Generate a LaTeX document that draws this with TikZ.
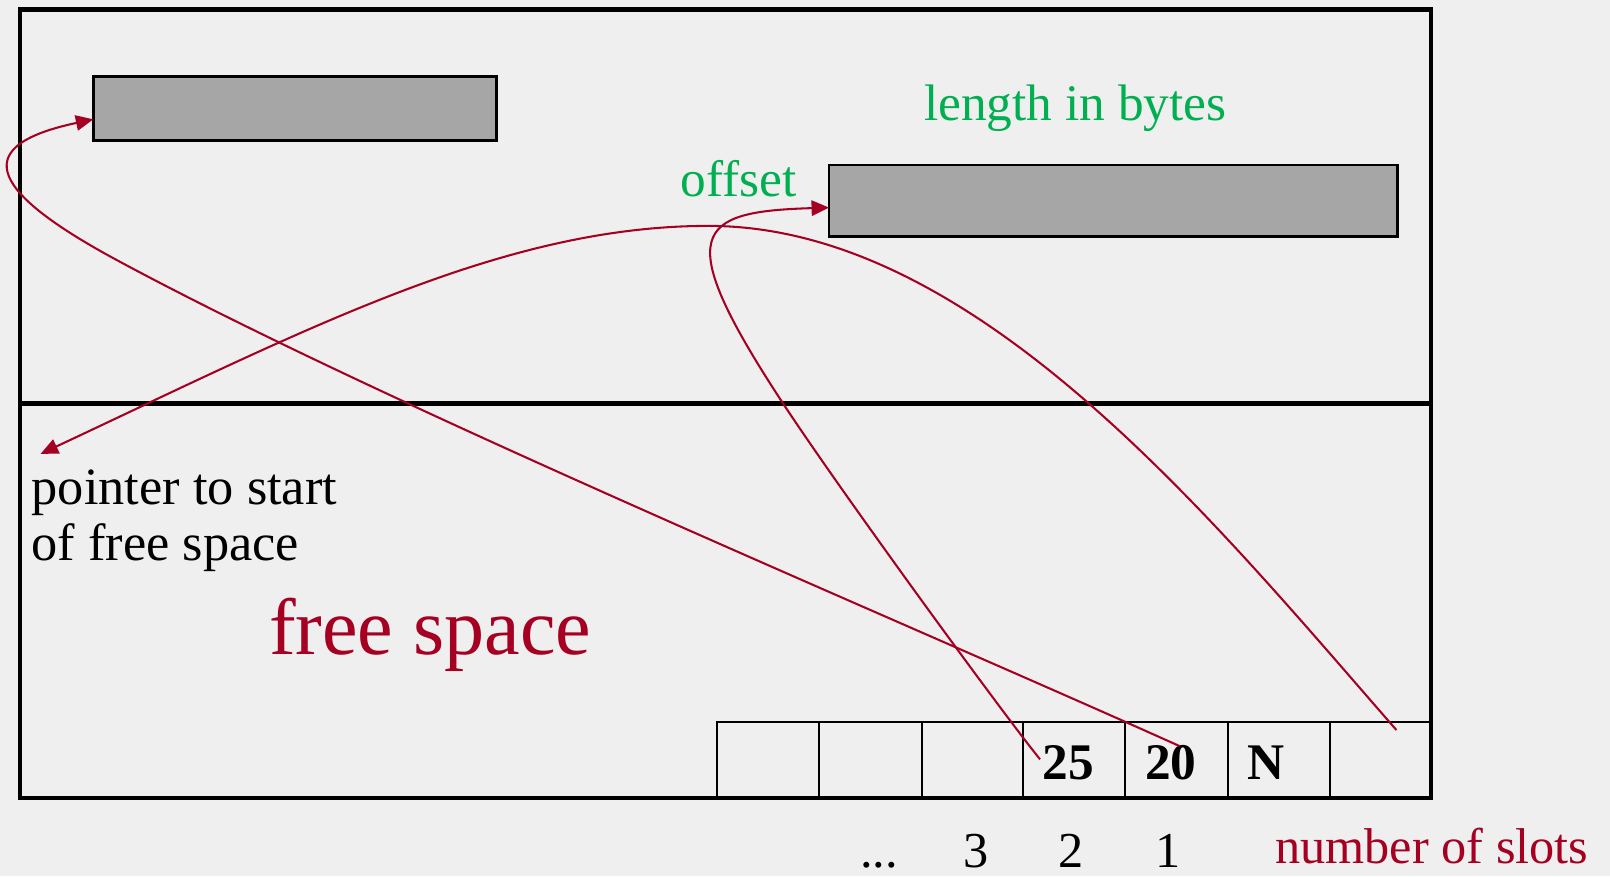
\documentclass[tikz,border=0pt]{standalone}
\usepackage{fontspec}
\setmainfont{Liberation Serif}
\usetikzlibrary{arrows.meta}
\definecolor{bg}{HTML}{EFEFEF}
\definecolor{dred}{HTML}{A50021}
\definecolor{grn}{HTML}{00B050}
\definecolor{boxgray}{HTML}{A6A6A6}
\begin{document}
\begin{tikzpicture}[x=1pt,y=-1pt,
  txt/.style={inner sep=0pt, outer sep=0pt},
  fnormal/.style={font=\fontsize{50}{60}\selectfont},
  fbold/.style={font=\fontsize{50}{56}\selectfont\bfseries},
  fnum/.style={font=\fontsize{49}{56}\selectfont},
  graybox/.style={draw=black, line width=2.4pt, fill=boxgray, inner sep=0pt, outer sep=0pt},
  ptr/.style={draw=dred, line width=2pt, -{Triangle[length=17pt,width=15pt]}},
  frame/.style={line width=4.5pt},
  cellline/.style={line width=2pt},
]
\useasboundingbox[fill=bg] (0,0) rectangle (1568,853.15);

% outer frame and middle line
\draw[frame] (19.5,9) rectangle (1393.7,777);
\draw[frame] (19.5,392.8) -- (1393.7,392.8);

% slot row
\draw[cellline] (698.7,777) -- (698.7,703) -- (1393.7,703);
\foreach \x in {797.6,897.6,996.3,1096,1196,1295.3}
  \draw[cellline] (\x,703) -- (\x,777);
\draw[frame] (698.7,777) -- (1393.7,777);

% records
\node[graybox, minimum width=392.8pt, minimum height=62.3pt] (rec1) at (287.3,105.85) {};
\node[graybox, minimum width=553.6pt, minimum height=69.8pt] (rec2) at (1084.2,195.6) {};

% texts
\node[txt, fnormal, text=grn, anchor=base west] (len) at (900,117.5) {length in bytes};
\node[txt, fnormal, text=grn, anchor=base west] (off) at (663,191.5) {offset};
\node[txt, font=\fontsize{51}{60}\selectfont, anchor=base west] (ptra) at (30.9,491.8) {pointer to start};
\node[txt, font=\fontsize{51}{60}\selectfont, anchor=base west] (ptrb) at (30.9,545.4) {of free space};
\node[txt, font=\fontsize{78}{90}\selectfont, text=dred, anchor=base west] (free) at (262,637) {free space};

\node[txt, fbold, anchor=base west] (v25) at (1015.5,759) {25};
\node[txt, fbold, anchor=base west] (v20) at (1115.3,759) {20};
\node[txt, fbold, anchor=base west] (vN) at (1214.5,759) {N};

\node[txt, fnum, anchor=base] (dots) at (856,845) {...};
\node[txt, fnum, anchor=base] (n3) at (950.4,845) {3};
\node[txt, fnum, anchor=base] (n2) at (1043.2,845) {2};
\node[txt, fnum, anchor=base] (n1) at (1137.8,845) {1};
\node[txt, fnum, text=dred, anchor=base west] (nslots) at (1242,840.6) {number of slots};

% connector ends
\coordinate (s20) at (1148.5,726.5);
\coordinate (s25) at (1012.9,739.5);
\coordinate (sN) at (1360,711);
\coordinate (a1) at (rec1.west |- 0,116.2);
\coordinate (a2) at (rec2.west |- 0,202.2);
\coordinate (a3) at (39.6,442);

% pointers
\draw[ptr] (s20) .. controls (875,603.5) and (377.6,395.7) .. (113.6,253.2)
                 .. controls (-18.4,182) and (-24.9,140.9) .. (a1);
\draw[ptr] (s25) .. controls (975.1,692.9) and (816.8,475.6) .. (762,392)
                 .. controls (652.4,224.8) and (677.4,206.1) .. (a2);
\draw[ptr] (sN) .. controls (1180,505) and (950,220) .. (690,220)
                .. controls (490,220) and (300,320) .. (a3);
\end{tikzpicture}
\end{document}
